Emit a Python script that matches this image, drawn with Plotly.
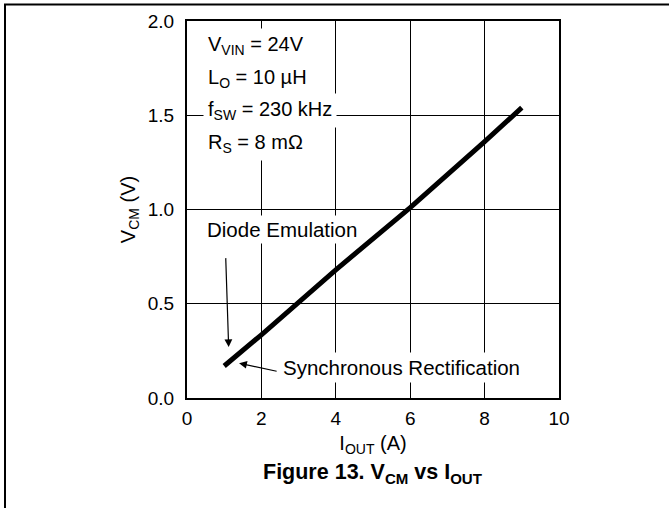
import plotly.graph_objects as go

# Data
i_out = [1, 2, 4, 6, 8, 9]
v_cm = [0.17, 0.335, 0.68, 1.01, 1.36, 1.54]

x_ticks = [0, 2, 4, 6, 8, 10]
x_tick_labels = ["0", "2", "4", "6", "8", "10"]
y_ticks = [0.0, 0.5, 1.0, 1.5, 2.0]
y_tick_labels = ["0.0", "0.5", "1.0", "1.5", "2.0"]

cond_lines = ["V<sub>VIN</sub> = 24V", "L<sub>O</sub> = 10 µH",
              "f<sub>SW</sub> = 230 kHz", "R<sub>S</sub> = 8 mΩ"]

FONT = "Liberation Sans, Arial, sans-serif"

fig = go.Figure()
fig.add_trace(go.Scatter(x=i_out, y=v_cm, mode="lines",
                         line=dict(color="black", width=5),
                         showlegend=False, hoverinfo="skip"))

W, H = 669, 508
L, R, T, B = 187, 110, 21, 110
pw, ph = W - L - R, H - T - B

def px_x(p):
    return (p - L) / pw

def px_y(p):
    return (H - B - p) / ph

fig.update_layout(
    width=W, height=H,
    margin=dict(l=L, r=R, t=T, b=B, pad=0),
    paper_bgcolor="white", plot_bgcolor="white",
    font=dict(family=FONT, color="black", size=20),
    xaxis=dict(range=[0, 10], tickvals=x_ticks, ticktext=x_tick_labels,
               showgrid=True, gridcolor="black", gridwidth=1,
               showline=True, linecolor="black", linewidth=2, mirror=True,
               ticks="", zeroline=False, ticklabelstandoff=2,
               tickfont=dict(size=19),
               title=dict(text="I<sub>OUT</sub> (A)", font=dict(size=20), standoff=8)),
    yaxis=dict(range=[0, 2.0], tickvals=y_ticks, ticktext=y_tick_labels,
               showgrid=True, gridcolor="black", gridwidth=1,
               showline=True, linecolor="black", linewidth=2, mirror=True,
               ticks="", zeroline=False, ticklabelstandoff=7,
               tickfont=dict(size=19),
               title=dict(text="V<sub>CM</sub> (V)", font=dict(size=20), standoff=7)),
)

annotations = []
# Condition text block
ys = [1.87, 1.695, 1.525, 1.35]
for txt, yv in zip(cond_lines, ys):
    annotations.append(dict(x=0.43, y=yv, xref="x", yref="y", text=txt,
                            showarrow=False, xanchor="left", yanchor="middle",
                            font=dict(size=20), bgcolor="white", borderpad=4))

# Diode Emulation label + arrow
annotations.append(dict(x=0.45, y=0.895, xref="x", yref="y", text="Diode Emulation",
                        showarrow=False, xanchor="left", yanchor="middle",
                        font=dict(size=20.5), bgcolor="white", borderpad=2))
annotations.append(dict(x=1.12, y=0.27, ax=1.04, ay=0.75, xref="x", yref="y",
                        axref="x", ayref="y", text="", showarrow=True,
                        arrowhead=2, arrowsize=1.3, arrowwidth=1.2, arrowcolor="black"))

# Synchronous Rectification label + arrow
annotations.append(dict(x=2.47, y=0.16, xref="x", yref="y", text="Synchronous Rectification",
                        showarrow=False, xanchor="left", yanchor="middle",
                        font=dict(size=20.5), bgcolor="white", borderpad=3))
annotations.append(dict(x=1.4, y=0.185, ax=2.45, ay=0.14, xref="x", yref="y",
                        axref="x", ayref="y", text="", showarrow=True,
                        arrowhead=2, arrowsize=1.3, arrowwidth=1.2, arrowcolor="black"))

# Figure caption
annotations.append(dict(x=0.5, y=px_y(473), xref="paper", yref="paper",
                        text="<b>Figure 13. V<sub>CM</sub> vs I<sub>OUT</sub></b>",
                        showarrow=False, xanchor="center", yanchor="middle",
                        font=dict(size=21.5)))

fig.update_layout(annotations=annotations)

# Outer frame (top and left)
fig.add_shape(type="line", xref="paper", yref="paper",
              x0=px_x(4), x1=px_x(669), y0=px_y(4.5), y1=px_y(4.5),
              line=dict(color="black", width=2))
fig.add_shape(type="line", xref="paper", yref="paper",
              x0=px_x(5), x1=px_x(5), y0=px_y(4), y1=px_y(508),
              line=dict(color="black", width=2))

fig.write_html("out.html", config={"displayModeBar": False},
               post_script="document.body.style.margin='0';document.body.style.overflow='hidden';")
